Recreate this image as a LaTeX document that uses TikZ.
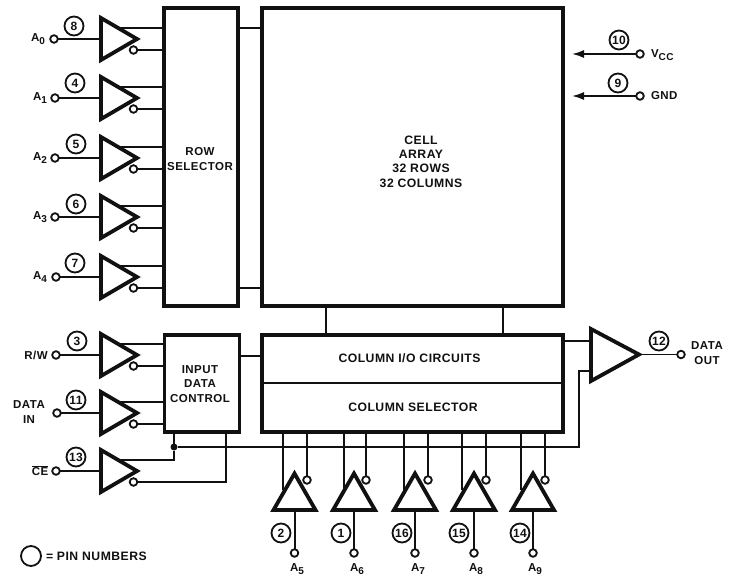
\documentclass[tikz,border=0pt]{standalone}
\usepackage{fontspec}
\setmainfont[LetterSpace=4]{Liberation Sans}
\usetikzlibrary{arrows.meta}
\definecolor{ink}{HTML}{111111}
\tikzset{
  wire/.style={draw=ink,line width=2pt,line join=miter},
  thin wire/.style={draw=ink,line width=1.7pt},
  tri/.style={draw=ink,line width=3.8pt,line join=miter,fill=white},
  boxed/.style={draw=ink,line width=3.6pt,fill=white,inner sep=0pt,outer sep=0pt},
  bub/.style={circle,draw=ink,line width=1.8pt,fill=white,minimum size=7.6pt,inner sep=0pt,outer sep=0pt},
  pin/.style={circle,draw=ink,line width=1.8pt,fill=white,minimum size=19pt,inner sep=0pt,outer sep=0pt,text=ink,font=\fontsize{12}{12}\bfseries\selectfont},
  lab/.style={inner sep=0pt,outer sep=0pt,text=ink,align=center,font=\fontsize{11.5}{14.2}\bfseries\selectfont},
  big lab/.style={lab,font=\fontsize{12.2}{14.4}\bfseries\selectfont},
  joint/.style={circle,fill=ink,minimum size=7pt,inner sep=0pt,outer sep=0pt},
}
\newcommand{\subt}[1]{\raisebox{-3.5pt}{\fontsize{10}{10}\selectfont #1}}
% name, centre y, bubble x, pin x, pin y, pin text
\newcommand{\hinv}[6]{%
  \node[bub] (#1b) at (#3,#2) {};
  \coordinate (#1i) at (101,#2);
  \draw[wire] (#1b) -- (#1i);
  \filldraw[tri] (101,#2-21) -- (137,#2) -- (101,#2+21) -- cycle;
  \coordinate (#1t) at (118,#2-11);
  \node[bub] (#1o) at (133.5,#2+11) {};
  \node[pin] (#1p) at (#4,#5) {#6};
}
% name, apex x, left x, right x, pin x, pin text
\newcommand{\vinv}[6]{%
  \node[bub] (#1b) at (#2,553) {};
  \coordinate (#1i) at (#2,510);
  \draw[wire] (#1b) -- (#1i);
  \filldraw[tri] (#2,473.5) -- (#2+21,510) -- (#2-21,510) -- cycle;
  \coordinate (#1l) at (#3,490);
  \node[bub] (#1o) at (#4,480) {};
  \node[pin] (#1p) at (#5,533) {#6};
  \draw[wire] (#1l) -- (#1l |- col.south);
  \draw[wire] (#1o) -- (#1o |- col.south);
}
\begin{document}
\begin{tikzpicture}[x=1pt,y=-1pt]
\useasboundingbox (0,0) rectangle (734,576);
\fill[white] (0,0) rectangle (734,576);

% blocks
\node[boxed,minimum width=74pt,minimum height=298pt] (row) at (201,157) {};
\node[boxed,minimum width=301pt,minimum height=298pt] (cell) at (412.5,157) {};
\node[boxed,minimum width=75pt,minimum height=97pt] (ctl) at (202,383.5) {};
\node[boxed,minimum width=301pt,minimum height=97pt] (col) at (412.5,383.5) {};
\coordinate (divl) at (262,383);
\coordinate (divr) at (563,383);
\draw[draw=ink,line width=2pt] (divl) -- (divr);

% block labels
\node[lab] (rowlab) at (200,159) {ROW\\SELECTOR};
\node[big lab] (celllab) at (421,161.5) {CELL\\ARRAY\\32 ROWS\\32 COLUMNS};
\node[lab] (ctllab) at (200,384) {INPUT\\DATA\\CONTROL};
\node[big lab] (collab1) at (409.5,358) {COLUMN I/O CIRCUITS};
\node[big lab] (collab2) at (413,407) {COLUMN SELECTOR};

% links between blocks
\coordinate (rc1) at (238,28);
\coordinate (rc2) at (238,288);
\coordinate (cc1) at (326,306);
\coordinate (cc2) at (503,306);
\coordinate (ic) at (240,356);
\draw[wire] (rc1) -- (rc1 -| cell.west);
\draw[wire] (rc2) -- (rc2 -| cell.west);
\draw[wire] (ic) -- (ic -| col.west);
\draw[wire] (cc1) -- (cc1 |- col.north);
\draw[wire] (cc2) -- (cc2 |- col.north);

% left inverters
\hinv{aa}{39}{54}{74}{26}{8}
\hinv{ab}{98}{55}{75}{83}{4}
\hinv{ac}{158}{55}{76}{144}{5}
\hinv{ad}{217}{55}{76}{204}{6}
\hinv{ae}{277}{56}{75}{263}{7}
\hinv{rw}{355}{56}{77}{341}{3}
\hinv{di}{413}{57}{76}{400}{11}
\hinv{ce}{471}{56}{76}{457}{13}
\foreach \n in {aa,ab,ac,ad,ae}{
  \draw[wire] (\n t) -- (\n t -| row.west);
  \draw[wire] (\n o) -- (\n o -| row.west);
}
\foreach \n in {rw,di}{
  \draw[wire] (\n t) -- (\n t -| ctl.west);
  \draw[wire] (\n o) -- (\n o -| ctl.west);
}
% chip enable
\node[joint] (dot) at (174,447) {};
\coordinate (cebot) at (226,432);
\draw[wire] (cet) -| (dot);
\draw[wire] (dot) -- (dot |- ctl.south);
\draw[wire] (ceo) -| (cebot);
\coordinate (busc) at (579,447);
\coordinate (busd) at (579,370.5);
\coordinate (bufe) at (591,370.5);
\draw[wire] (dot) -- (busc) -- (busd) -- (bufe);

% output buffer
\coordinate (bufi) at (563,341);
\coordinate (bufj) at (591,341);
\draw[wire] (bufi) -- (bufj);
\coordinate (buft) at (639,354.5);
\filldraw[tri] (591,329) -- (buft) -- (591,381) -- cycle;
\node[bub] (outb) at (681,354.5) {};
\draw[thin wire] (buft) -- (outb);
\node[pin] (p12) at (659,341) {12};
\node[lab] (outlab) at (707,353) {DATA\\OUT};

% bottom inverters
\vinv{fa}{294.5}{283}{307}{281}{2}
\vinv{fb}{354}{344}{366}{341}{1}
\vinv{fc}{415}{404}{428}{402}{16}
\vinv{fd}{474}{462}{486}{459}{15}
\vinv{fe}{533}{521}{545}{520}{14}

% supply pins
\node[bub] (vccb) at (640,54) {};
\coordinate (vcce) at (572,54);
\draw[thin wire,-{Latex[length=12pt,width=8pt]}] (vccb) -- (vcce);
\node[bub] (gndb) at (640,96) {};
\coordinate (gnde) at (572,96);
\draw[thin wire,-{Latex[length=12pt,width=8pt]}] (gndb) -- (gnde);
\node[pin] (p10) at (619,40) {10};
\node[pin] (p9) at (618,83) {9};
\node[lab,anchor=west] (vcc) at (651,55) {V\subt{CC}};
\node[lab,anchor=west] (gnd) at (651,96) {GND};

% pin names
\node[lab,anchor=east] (na) at (45,39) {A\subt{0}};
\node[lab,anchor=east] (nb) at (47,98) {A\subt{1}};
\node[lab,anchor=east] (nc) at (47,158) {A\subt{2}};
\node[lab,anchor=east] (nd) at (47,217) {A\subt{3}};
\node[lab,anchor=east] (ne) at (47,277) {A\subt{4}};
\node[lab] (nrw) at (36,355) {R/W};
\node[lab] (ndi) at (29,412) {DATA\\IN};
\node[lab] (nce) at (40,471) {$\overline{\mbox{CE}}$};
\node[lab] (n5) at (297,569) {A\subt{5}};
\node[lab] (n6) at (357,569) {A\subt{6}};
\node[lab] (n7) at (418,569) {A\subt{7}};
\node[lab] (n8) at (476,569) {A\subt{8}};
\node[lab] (n9) at (535,569) {A\subt{9}};

% legend
\node[pin,minimum size=20pt] (legend) at (31,556) {};
\node[big lab,anchor=west] (legendt) at (46,556) {= PIN NUMBERS};
\end{tikzpicture}
\end{document}
